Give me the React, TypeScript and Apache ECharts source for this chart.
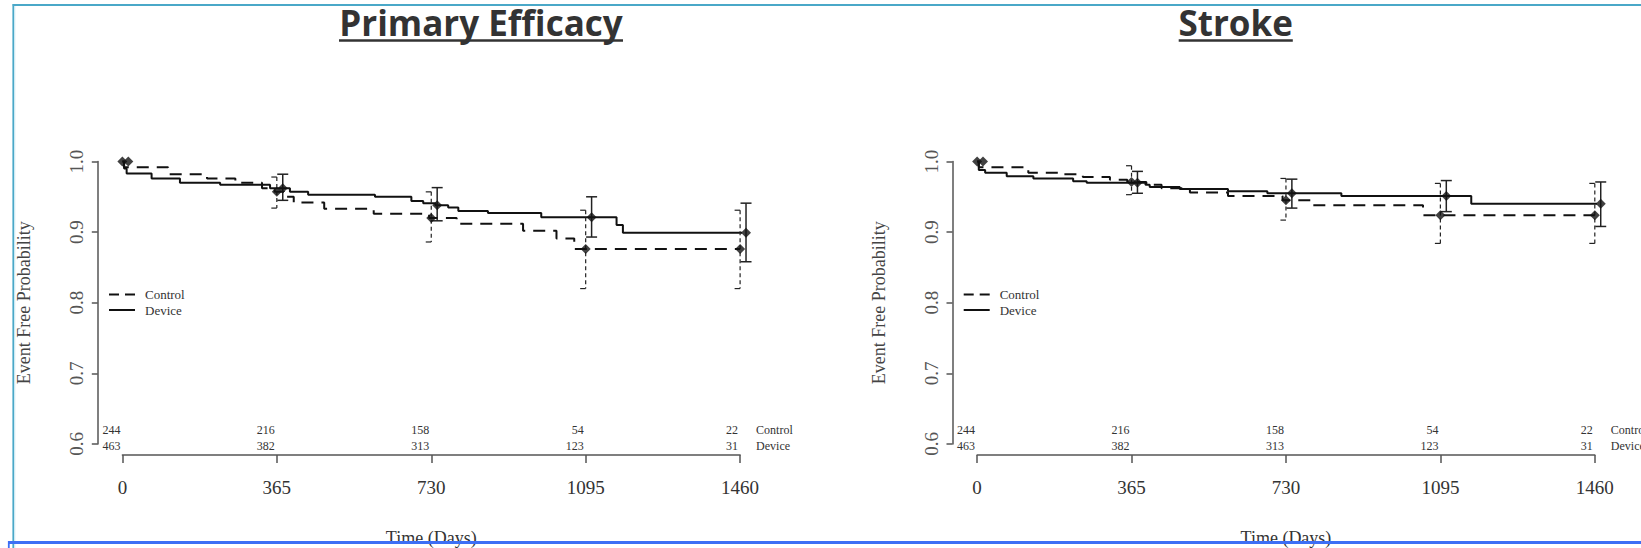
import React, { useEffect, useRef } from "react";
import * as echarts from "echarts";

// ---------- data ----------
const TICK_DAYS = [0, 365, 730, 1095, 1460];
const AT_RISK_CONTROL = [244, 216, 158, 54, 22];
const AT_RISK_DEVICE = [463, 382, 313, 123, 31];

// Primary Efficacy – Kaplan-Meier steps [day, survival]
const PE_CONTROL: [number, number][] = [
  [0, 1.0], [4, 0.992], [108, 0.982], [200, 0.976], [267, 0.970], [330, 0.962], [360, 0.957],
  [382, 0.950], [405, 0.942], [477, 0.933], [594, 0.926], [725, 0.920], [790, 0.912],
  [947, 0.902], [1026, 0.891], [1068, 0.876], [1460, 0.876],
];
const PE_DEVICE: [number, number][] = [
  [0, 1.0], [4, 0.99], [10, 0.983], [69, 0.976], [136, 0.970], [231, 0.967], [349, 0.962],
  [396, 0.957], [439, 0.953], [597, 0.950], [683, 0.944], [711, 0.941], [740, 0.938],
  [770, 0.935], [794, 0.930], [864, 0.927], [990, 0.921], [1168, 0.910], [1183, 0.899], [1474, 0.899],
];
const PE_CONTROL_MARKS: [number, number][] = [[0, 1.0], [365, 0.957], [730, 0.920], [1095, 0.876], [1460, 0.876]];
const PE_DEVICE_MARKS: [number, number][] = [[14, 1.0], [379, 0.962], [744, 0.938], [1109, 0.921], [1474, 0.899]];
const PE_CONTROL_CI: [number, number, number][] = [[365, 0.934, 0.978], [730, 0.886, 0.957], [1095, 0.820, 0.931], [1460, 0.820, 0.931]];
const PE_DEVICE_CI: [number, number, number][] = [[379, 0.945, 0.982], [744, 0.916, 0.963], [1109, 0.893, 0.950], [1474, 0.858, 0.941]];

// Stroke
const ST_CONTROL: [number, number][] = [
  [0, 1.0], [4, 0.992], [121, 0.984], [196, 0.982], [250, 0.978], [314, 0.974], [355, 0.971],
  [400, 0.967], [436, 0.962], [503, 0.956], [593, 0.951], [722, 0.945], [790, 0.938],
  [1054, 0.924], [1460, 0.924],
];
const ST_DEVICE: [number, number][] = [
  [0, 1.0], [4, 0.988], [19, 0.984], [70, 0.979], [133, 0.976], [227, 0.972], [259, 0.970],
  [398, 0.967], [408, 0.964], [479, 0.961], [593, 0.958], [686, 0.955], [861, 0.951],
  [1168, 0.940], [1474, 0.940],
];
const ST_CONTROL_MARKS: [number, number][] = [[0, 1.0], [365, 0.971], [730, 0.945], [1095, 0.924], [1460, 0.924]];
const ST_DEVICE_MARKS: [number, number][] = [[14, 1.0], [379, 0.970], [744, 0.955], [1109, 0.951], [1474, 0.940]];
const ST_CONTROL_CI: [number, number, number][] = [[365, 0.953, 0.994], [730, 0.917, 0.976], [1095, 0.884, 0.969], [1460, 0.884, 0.969]];
const ST_DEVICE_CI: [number, number, number][] = [[379, 0.955, 0.986], [744, 0.934, 0.975], [1109, 0.929, 0.973], [1474, 0.908, 0.971]];

const TITLES = ["Primary Efficacy", "Stroke"];
const GROUPS = ["Control", "Device"];

// ---------- layout ----------
const GRID_TOP = 161.5;
const GRID_H = 282.4;
const PANEL_LEFT = [122.4, 977.1];
const PANEL_W = 617.7;
const TITLE_CX = [481, 1235.7];
const TITLE_UL = [[339, 623], [1178.7, 1292.8]];
const SERIF = '"Liberation Serif", "Times New Roman", serif';
const INK = "#111";
const AXIS = "#555";

function stepLine(gi: number, data: [number, number][], dashed: boolean) {
  return {
    type: "line",
    xAxisIndex: gi,
    yAxisIndex: gi,
    data,
    step: "end",
    showSymbol: false,
    clip: false,
    silent: true,
    lineStyle: { color: INK, width: 2, type: dashed ? [12, 8] : "solid" },
    z: 3,
  };
}

function marks(gi: number, data: [number, number][]) {
  return {
    type: "scatter",
    xAxisIndex: gi,
    yAxisIndex: gi,
    data,
    symbol: "diamond",
    symbolSize: 10,
    clip: false,
    silent: true,
    itemStyle: { color: INK },
    z: 5,
  };
}

function errorBars(gi: number, data: [number, number, number][], dashed: boolean) {
  return {
    type: "custom",
    xAxisIndex: gi,
    yAxisIndex: gi,
    data,
    clip: false,
    silent: true,
    z: 4,
    encode: { x: 0, y: [1, 2] },
    renderItem: (_p: any, api: any) => {
      const x = api.value(0);
      const t = api.coord([x, api.value(2)]);
      const b = api.coord([x, api.value(1)]);
      const lw = dashed ? 1.2 : 1.5;
      const cl = t[0] - 5.5;
      const cr = dashed ? t[0] : t[0] + 5.5;
      const base = { stroke: "#222", lineWidth: lw, fill: null };
      return {
        type: "group",
        children: [
          { type: "line", shape: { x1: t[0], y1: t[1], x2: b[0], y2: b[1] }, style: { ...base, lineDash: dashed ? [4, 3] : null } },
          { type: "line", shape: { x1: cl, y1: t[1], x2: cr, y2: t[1] }, style: base },
          { type: "line", shape: { x1: cl, y1: b[1], x2: cr, y2: b[1] }, style: base },
        ],
      };
    },
  };
}

function atRisk(gi: number, counts: number[], dy: number) {
  return {
    type: "custom",
    xAxisIndex: gi,
    yAxisIndex: gi,
    data: TICK_DAYS.map((d, i) => [d, counts[i]]),
    clip: false,
    silent: true,
    encode: { x: 0 },
    renderItem: (_p: any, api: any) => {
      const p = api.coord([api.value(0), 0.6]);
      return {
        type: "text",
        x: p[0] - 2,
        y: p[1] + dy,
        style: {
          text: String(api.value(1)),
          textAlign: "right",
          textVerticalAlign: "middle",
          align: "right",
          verticalAlign: "middle",
          font: `12px ${SERIF}`,
          fill: "#333",
        },
      };
    },
  };
}

export default function App() {
  const ref = useRef<HTMLDivElement>(null);

  useEffect(() => {
    document.body.style.margin = "0";
    const chart = echarts.init(ref.current!, null, { renderer: "svg" });

    const grids = PANEL_LEFT.map((l) => ({
      left: l,
      top: GRID_TOP,
      width: PANEL_W,
      height: GRID_H,
      containLabel: false,
      outerBoundsMode: "none",
    }));

    const xAxes = PANEL_LEFT.map((_, gi) => ({
      type: "value",
      gridIndex: gi,
      min: 0,
      max: 1460,
      interval: 365,
      offset: 11,
      axisLine: { show: true, onZero: false, lineStyle: { color: AXIS, width: 1.5 } },
      axisTick: { show: true, length: 8, lineStyle: { color: AXIS, width: 1.5 } },
      axisLabel: { fontFamily: SERIF, fontSize: 19, color: "#333", margin: 23, formatter: (v: number) => String(v) },
      splitLine: { show: false },
      name: "Time (Days)",
      nameLocation: "middle",
      nameGap: 74,
      nameTextStyle: { fontFamily: SERIF, fontSize: 18, color: "#333" },
    }));

    const yAxes = PANEL_LEFT.map((_, gi) => ({
      type: "value",
      gridIndex: gi,
      min: 0.6,
      max: 1.0,
      interval: 0.1,
      offset: 24.6,
      axisLine: { show: true, onZero: false, lineStyle: { color: AXIS, width: 1.5 } },
      axisTick: { show: true, length: 6, lineStyle: { color: AXIS, width: 1.5 } },
      axisLabel: {
        rotate: 90,
        margin: 12,
        fontFamily: SERIF,
        fontSize: 19,
        color: "#555",
        formatter: (v: number) => v.toFixed(1),
      },
      splitLine: { show: false },
      name: "Event Free Probability",
      nameLocation: "middle",
      nameRotate: 90,
      nameGap: 65,
      nameTextStyle: { fontFamily: SERIF, fontSize: 18, color: "#444" },
    }));

    const series: any[] = [
      stepLine(0, PE_CONTROL, true),
      stepLine(0, PE_DEVICE, false),
      marks(0, PE_CONTROL_MARKS),
      marks(0, PE_DEVICE_MARKS),
      errorBars(0, PE_CONTROL_CI, true),
      errorBars(0, PE_DEVICE_CI, false),
      atRisk(0, AT_RISK_CONTROL, -14),
      atRisk(0, AT_RISK_DEVICE, 2.5),
      stepLine(1, ST_CONTROL, true),
      stepLine(1, ST_DEVICE, false),
      marks(1, ST_CONTROL_MARKS),
      marks(1, ST_DEVICE_MARKS),
      errorBars(1, ST_CONTROL_CI, true),
      errorBars(1, ST_DEVICE_CI, false),
      atRisk(1, AT_RISK_CONTROL, -14),
      atRisk(1, AT_RISK_DEVICE, 2.5),
    ];

    const graphic: any[] = [];
    PANEL_LEFT.forEach((l, gi) => {
      const shift = l - PANEL_LEFT[0];
      // titles
      graphic.push({
        type: "text",
        x: TITLE_CX[gi],
        y: 22,
        style: {
          text: TITLES[gi],
          textAlign: "center",
          textVerticalAlign: "middle",
          lineHeight: 28,
          font: `bold 35px "Open Sans", "Noto Sans", sans-serif`,
          fill: "#333",
        },
      });
      graphic.push({
        type: "line",
        shape: { x1: TITLE_UL[gi][0], y1: 40.5, x2: TITLE_UL[gi][1], y2: 40.5 },
        style: { stroke: "#333", lineWidth: 2.5 },
      });
      // legend
      graphic.push({
        type: "line",
        shape: { x1: 109 + shift, y1: 294.6, x2: 135 + shift, y2: 294.6 },
        style: { stroke: INK, lineWidth: 2, lineDash: [10, 6] },
      });
      graphic.push({
        type: "line",
        shape: { x1: 109 + shift, y1: 310, x2: 135 + shift, y2: 310 },
        style: { stroke: INK, lineWidth: 2 },
      });
      GROUPS.forEach((g, i) => {
        graphic.push({
          type: "text",
          x: 145 + shift,
          y: i === 0 ? 294.6 : 310,
          style: { text: g, textAlign: "left", textVerticalAlign: "middle", font: `13px ${SERIF}`, fill: "#333" },
        });
        // at-risk row labels
        graphic.push({
          type: "text",
          x: l + PANEL_W + 16,
          y: i === 0 ? GRID_TOP + GRID_H - 14 : GRID_TOP + GRID_H + 2.5,
          style: { text: g, textAlign: "left", textVerticalAlign: "middle", font: `12px ${SERIF}`, fill: "#333" },
        });
      });
    });
    // frame lines
    graphic.push({ type: "line", z: 100, shape: { x1: 12.7, y1: 5, x2: 1641, y2: 5 }, style: { stroke: "#4aa8c8", lineWidth: 2 } });
    graphic.push({ type: "line", z: 100, shape: { x1: 13.3, y1: 4, x2: 13.3, y2: 548 }, style: { stroke: "#4aa8c8", lineWidth: 1.8 } });
    graphic.push({ type: "line", z: 100, shape: { x1: 14.8, y1: 6, x2: 14.8, y2: 548 }, style: { stroke: "#cbe9f3", lineWidth: 1 } });
    graphic.push({ type: "line", z: 101, shape: { x1: 8, y1: 542.5, x2: 1641, y2: 542.5 }, style: { stroke: "#3d6ff5", lineWidth: 3 } });
    graphic.push({ type: "line", z: 101, shape: { x1: 8.8, y1: 541, x2: 8.8, y2: 548 }, style: { stroke: "#3d6ff5", lineWidth: 1.8 } });

    chart.setOption({
      animation: false,
      backgroundColor: "#ffffff",
      grid: grids,
      xAxis: xAxes,
      yAxis: yAxes,
      series,
      graphic,
    });

    return () => chart.dispose();
  }, []);

  return <div ref={ref} style={{ position: "absolute", left: 0, top: 0, width: 1641, height: 548 }} />;
}
